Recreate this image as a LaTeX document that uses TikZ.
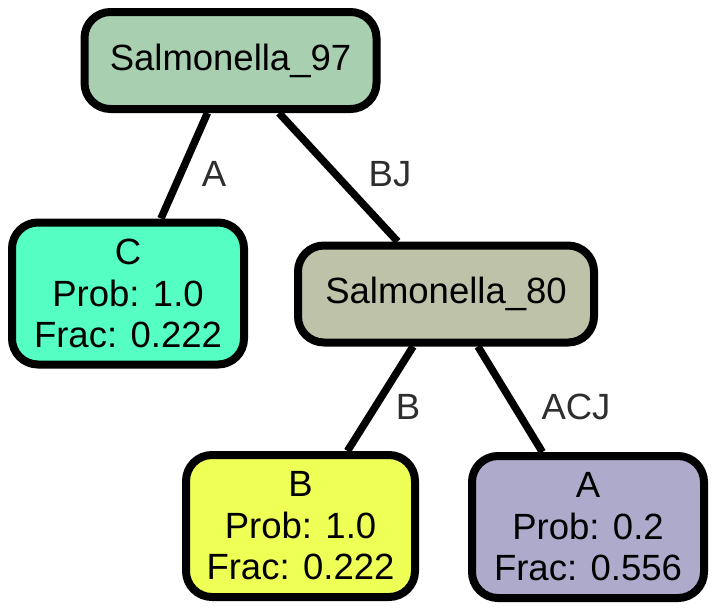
\documentclass[tikz,border=0pt]{standalone}
\usepackage{fontspec}
\setmainfont{Liberation Sans}
\definecolor{fillsNinetySeven}{HTML}{A8D0B0}
\definecolor{fillC}{HTML}{55FFC4}
\definecolor{fillsEighty}{HTML}{BDC2A9}
\definecolor{fillB}{HTML}{EEFF55}
\definecolor{fillA}{HTML}{ADAACB}
\definecolor{labelgray}{HTML}{2E2E2E}
\begin{document}
\begin{tikzpicture}[x=1pt,y=-1pt,
  treenode/.style={draw=black, line width=8pt, rounded corners=26pt, inner sep=0pt,
    align=center, font=\fontsize{36.5}{41.5}\selectfont},
  leafnode/.style={treenode, minimum width=232pt, minimum height=142pt},
  innernode/.style={treenode, minimum width=292pt, minimum height=97pt},
  edge/.style={line width=7.5pt, draw=black},
  elabel/.style={text=labelgray, inner sep=0pt, font=\fontsize{36.5}{41.5}\selectfont}]
\useasboundingbox (0,0) rectangle (717,613);

% tree nodes
\node[innernode, fill=fillsNinetySeven] (s97) at (230.5,60.5) {Salmonella\_97};
\node[leafnode, fill=fillC] (c) at (128,293.5) {C\\Prob: 1.0\\Frac: 0.222};
\node[innernode, fill=fillsEighty, minimum width=296pt] (s80) at (446,294) {Salmonella\_80};
\node[leafnode, fill=fillB, minimum width=229pt] (b) at (300.5,526) {B\\Prob: 1.0\\Frac: 0.222};
\node[leafnode, fill=fillA] (a) at (588,527) {A\\Prob: 0.2\\Frac: 0.556};

% connectors
\draw[edge] (s97) -- (c);
\draw[edge] (s97) -- (s80);
\draw[edge] (s80) -- (b);
\draw[edge] (s80) -- (a);

% connector labels
\node[elabel] (la) at (214,174) {A};
\node[elabel] (lbj) at (390,174) {BJ};
\node[elabel] (lb) at (408,407) {B};
\node[elabel] (lacj) at (576,407) {ACJ};
\end{tikzpicture}
\end{document}
